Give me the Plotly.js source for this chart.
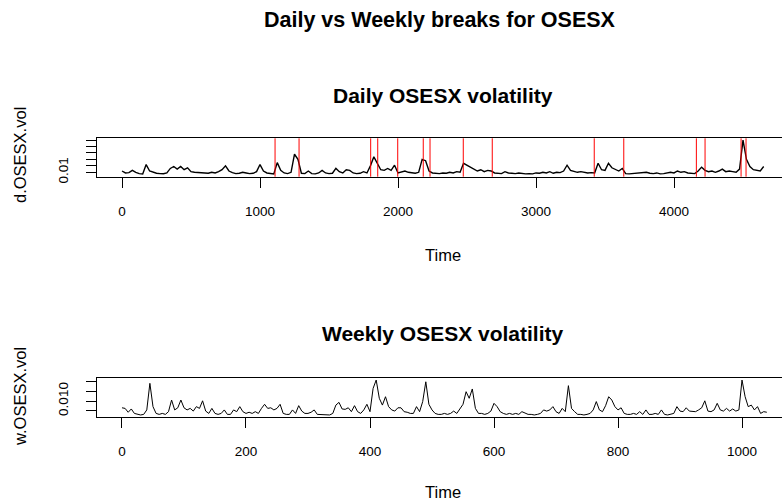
<!DOCTYPE html>
<html>
<head>
<meta charset="utf-8">
<script src="https://cdn.plot.ly/plotly-3.0.1.min.js"></script>
<style>
  html, body { margin: 0; padding: 0; background: #ffffff; }
  #chart { width: 782px; height: 504px; }
</style>
</head>
<body>
<div id="chart"></div>
<script>
// ---------------- data ----------------
var dailyStep = 25;   // one value every 25 time units
var dailyVol = [
  0.012, 0.009, 0.0095, 0.013, 0.010, 0.008, 0.0075, 0.022, 0.012, 0.010,
  0.0085, 0.008, 0.0078, 0.009, 0.016, 0.019, 0.015, 0.019, 0.014, 0.017,
  0.011, 0.010, 0.0095, 0.010, 0.009, 0.0085, 0.010, 0.009, 0.011, 0.014,
  0.020, 0.012, 0.0095, 0.008, 0.0085, 0.010, 0.009, 0.008, 0.0085, 0.011,
  0.022, 0.012, 0.009, 0.008, 0.0075, 0.025, 0.013, 0.009, 0.008, 0.010,
  0.038, 0.030, 0.0085, 0.008, 0.012, 0.008, 0.0075, 0.009, 0.013, 0.009,
  0.008, 0.0085, 0.016, 0.011, 0.009, 0.014, 0.013, 0.009, 0.008, 0.0085,
  0.011, 0.009, 0.020, 0.034, 0.024, 0.014, 0.013, 0.016, 0.013, 0.021,
  0.009, 0.010, 0.012, 0.010, 0.009, 0.0085, 0.010, 0.030, 0.028, 0.012,
  0.009, 0.0085, 0.008, 0.009, 0.0085, 0.010, 0.009, 0.011, 0.010, 0.024,
  0.021, 0.017, 0.015, 0.012, 0.014, 0.011, 0.013, 0.012, 0.009, 0.0085,
  0.008, 0.011, 0.009, 0.0085, 0.008, 0.009, 0.0078, 0.0075, 0.008, 0.0075,
  0.009, 0.0085, 0.010, 0.009, 0.011, 0.0085, 0.010, 0.0095, 0.012, 0.021,
  0.013, 0.012, 0.010, 0.011, 0.010, 0.009, 0.0095, 0.009, 0.024, 0.014,
  0.013, 0.024, 0.017, 0.014, 0.012, 0.016, 0.008, 0.0075, 0.008, 0.0075,
  0.009, 0.0085, 0.010, 0.0085, 0.008, 0.009, 0.0075, 0.008, 0.0085, 0.010,
  0.009, 0.012, 0.010, 0.011, 0.009, 0.0085, 0.008, 0.012, 0.018, 0.013,
  0.011, 0.012, 0.010, 0.012, 0.015, 0.011, 0.012, 0.011, 0.010, 0.015,
  0.060, 0.030, 0.019, 0.014, 0.013, 0.012, 0.019
];
var dailyBreaks = [1109, 1283, 1802, 1853, 1998, 2183, 2232, 2473, 2683,
                   3422, 3636, 4162, 4225, 4486, 4522];

var weeklyStep = 5;   // one value every 5 weeks
var weeklyVol = [
  0.0065, 0.0062, 0.0042, 0.0059, 0.0036, 0.0031, 0.0028, 0.0031, 0.0054, 0.0191,
  0.0071, 0.0036, 0.0031, 0.0036, 0.0031, 0.0045, 0.0105, 0.0054, 0.0065, 0.0105,
  0.0065, 0.0054, 0.0062, 0.0048, 0.0071, 0.0062, 0.0101, 0.0048, 0.0036, 0.0062,
  0.0036, 0.0031, 0.0036, 0.0054, 0.0031, 0.0031, 0.0054, 0.0045, 0.0071, 0.0045,
  0.0036, 0.0042, 0.0036, 0.0045, 0.0036, 0.0062, 0.0083, 0.0062, 0.0065, 0.0054,
  0.0062, 0.0083, 0.0036, 0.0031, 0.0031, 0.0054, 0.0036, 0.0076, 0.0048, 0.0036,
  0.0036, 0.0042, 0.0054, 0.0031, 0.0031, 0.0028, 0.0031, 0.0028, 0.0036, 0.0079,
  0.0093, 0.0059, 0.0057, 0.0065, 0.0045, 0.0076, 0.0045, 0.0036, 0.0054, 0.0083,
  0.0045, 0.0165, 0.0208, 0.0114, 0.0079, 0.0122, 0.0071, 0.0054, 0.0048, 0.0065,
  0.0065, 0.0045, 0.0042, 0.0036, 0.0036, 0.0071, 0.0045, 0.0097, 0.0199, 0.0083,
  0.0054, 0.0036, 0.0031, 0.0031, 0.0036, 0.0031, 0.0036, 0.0048, 0.0036, 0.0062,
  0.0083, 0.0148, 0.0114, 0.0162, 0.0062, 0.0036, 0.0036, 0.0031, 0.0036, 0.0048,
  0.0088, 0.0071, 0.0045, 0.0036, 0.0031, 0.0036, 0.0031, 0.0036, 0.0031, 0.0045,
  0.0036, 0.0031, 0.0031, 0.0028, 0.0031, 0.0036, 0.0054, 0.0048, 0.0054, 0.0071,
  0.0045, 0.0036, 0.0062, 0.0045, 0.0179, 0.0062, 0.0045, 0.0031, 0.0031, 0.0028,
  0.0031, 0.0036, 0.0054, 0.0097, 0.0054, 0.0045, 0.0076, 0.0122, 0.0105, 0.0071,
  0.0054, 0.0065, 0.0036, 0.0031, 0.0031, 0.0036, 0.0031, 0.0045, 0.0031, 0.0054,
  0.0031, 0.0031, 0.0036, 0.0031, 0.0054, 0.0031, 0.0028, 0.0031, 0.0036, 0.0071,
  0.0048, 0.0045, 0.0065, 0.0048, 0.0045, 0.0045, 0.0054, 0.0065, 0.0101, 0.0048,
  0.0045, 0.0054, 0.0088, 0.0054, 0.0048, 0.0062, 0.0048, 0.0059, 0.0048, 0.0054,
  0.0208, 0.0122, 0.0071, 0.0079, 0.0054, 0.0071, 0.0036, 0.0045, 0.0042
];

var dailyXTicks = [0, 1000, 2000, 3000, 4000];
var weeklyXTicks = [0, 200, 400, 600, 800, 1000];
var dailyYTicks = [0.01, 0.02, 0.03, 0.04, 0.05, 0.06];
var dailyYTickText = ['0.01', '', '', '', '', ''];
var weeklyYTicks = [0.005, 0.010, 0.015, 0.020];
var weeklyYTickText = ['', '0.010', '', ''];

var mainTitle = 'Daily vs Weekly breaks for OSESX';
var dailyTitle = 'Daily OSESX volatility';
var weeklyTitle = 'Weekly OSESX volatility';
var xLabel = 'Time';
var dailyYLabel = 'd.OSESX.vol';
var weeklyYLabel = 'w.OSESX.vol';

// ---------------- build ----------------
var dailyT = dailyVol.map(function (v, i) { return i * dailyStep; });
var weeklyT = weeklyVol.map(function (v, i) { return i * weeklyStep; });

var W = 782, H = 504, ML = 97, MR = 0;
function px(x) { return (x - ML) / (W - ML - MR); }
function py(y) { return 1 - y / H; }

var FONT = 'Liberation Sans, Arial, Helvetica, sans-serif';
var TICK_SIZE = 13.5, LAB_SIZE = 16.5, SUB_SIZE = 21, MAIN_SIZE = 21.5;

var traces = [
  { x: dailyT, y: dailyVol, type: 'scatter', mode: 'lines',
    line: { color: '#000000', width: 1.4 }, xaxis: 'x', yaxis: 'y',
    hoverinfo: 'skip', showlegend: false },
  { x: weeklyT, y: weeklyVol, type: 'scatter', mode: 'lines',
    line: { color: '#000000', width: 1 }, xaxis: 'x2', yaxis: 'y2',
    hoverinfo: 'skip', showlegend: false }
];

var shapes = dailyBreaks.map(function (b) {
  return { type: 'line', xref: 'x', yref: 'y domain', x0: b, x1: b, y0: 0, y1: 1,
           line: { color: '#ff0000', width: 1 }, layer: 'above' };
});

function xaxisDef(range, ticks, anchor) {
  return {
    range: range, domain: [0, 1], anchor: anchor,
    tickmode: 'array', tickvals: ticks, ticktext: ticks.map(String),
    ticks: 'outside', ticklen: 10, tickwidth: 1, tickcolor: '#000',
    ticklabelstandoff: 12,
    showline: true, mirror: true, linecolor: '#000', linewidth: 1,
    showgrid: false, zeroline: false,
    tickfont: { family: FONT, size: TICK_SIZE, color: '#000' }
  };
}
function yaxisDef(range, domain, ticks, text, anchor) {
  return {
    range: range, domain: domain, anchor: anchor,
    tickmode: 'array', tickvals: ticks, ticktext: text,
    ticks: 'outside', ticklen: 10, tickwidth: 1, tickcolor: '#000',
    tickangle: -90, ticklabelstandoff: 13,
    showline: true, mirror: false, linecolor: '#000', linewidth: 1,
    showgrid: false, zeroline: false,
    tickfont: { family: FONT, size: TICK_SIZE, color: '#000' }
  };
}

function ann(text, x, y, size, angle) {
  var a = { text: text, xref: 'paper', yref: 'paper', x: px(x), y: py(y),
            xanchor: 'center', yanchor: 'middle', showarrow: false,
            font: { family: FONT, size: size, color: '#000' } };
  if (angle) a.textangle = angle;
  return a;
}

var layout = {
  width: W, height: H,
  margin: { l: ML, r: MR, t: 0, b: 0, pad: 0 },
  paper_bgcolor: '#ffffff', plot_bgcolor: '#ffffff',
  showlegend: false,
  xaxis: xaxisDef([-181.2, 4782.6], dailyXTicks, 'y'),
  yaxis: yaxisDef([0.00318, 0.06271], [py(176.7), py(138.3)], dailyYTicks, dailyYTickText, 'x'),
  xaxis2: xaxisDef([-40.3, 1064.5], weeklyXTicks, 'y2'),
  yaxis2: yaxisDef([0.00191, 0.0217], [py(416.7), py(378.3)], weeklyYTicks, weeklyYTickText, 'x2'),
  shapes: shapes,
  annotations: [
    ann('<b>' + mainTitle + '</b>', 440, 20, MAIN_SIZE),
    ann('<b>' + dailyTitle + '</b>', 443, 95, SUB_SIZE),
    ann('<b>' + weeklyTitle + '</b>', 443, 333, SUB_SIZE),
    ann(xLabel, 443, 255, LAB_SIZE),
    ann(xLabel, 443, 492, LAB_SIZE),
    ann(dailyYLabel, 20, 155, LAB_SIZE, -90),
    ann(weeklyYLabel, 20, 397, LAB_SIZE, -90)
  ]
};

Plotly.newPlot('chart', traces, layout, { staticPlot: true, displayModeBar: false });
</script>
</body>
</html>
